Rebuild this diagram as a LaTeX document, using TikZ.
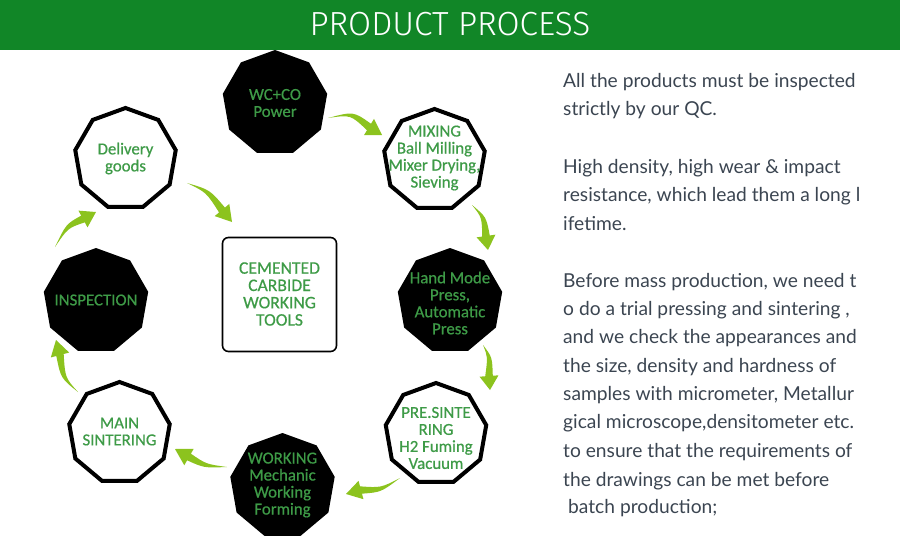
\documentclass[tikz,border=0pt]{standalone}
\usepackage{fontspec}
\setmainfont{Carlito}[FakeBold=0.6]
\newfontfamily\bodyfont{Lato}
\newfontfamily\headfont{Fira Sans Light}
\usetikzlibrary{calc,shapes.geometric}
\definecolor{hdrgreen}{HTML}{118627}
\definecolor{nodegreen}{HTML}{3E9B47}
\definecolor{arrowgreen}{HTML}{8CC31E}
\definecolor{bodygray}{HTML}{3B4551}
\newcommand\garrow[4]{%
  \fill[arrowgreen] (#1) .. controls ($(#2)!2.2pt!90:(#3)$) .. ($(#3)!3.8pt!90:(#4)$)
    -- ($(#3)!9.5pt!90:(#4)$) -- (#4) -- ($(#3)!9.5pt!-90:(#4)$)
    -- ($(#3)!3.8pt!-90:(#4)$) .. controls ($(#2)!2.2pt!-90:(#3)$) .. (#1) -- cycle;}
\begin{document}
\begin{tikzpicture}[x=1pt,y=-1pt,
  blackpoly/.style={regular polygon, regular polygon sides=9, minimum size=106pt, inner sep=0pt, fill=black},
  whitepoly/.style={regular polygon, regular polygon sides=9, minimum size=102pt, inner sep=0pt, draw=black, line width=4pt, fill=white},
  ptext/.style={text=nodegreen, font=\fontsize{16.8}{17}\selectfont, align=center, inner sep=0pt},
  btext/.style={text=bodygray, font=\bodyfont\fontsize{19.2}{20}\selectfont, anchor=base west, inner sep=0pt},
  centerbox/.style={draw=black, line width=1.6pt, rounded corners=6pt, minimum width=114pt, minimum height=114pt, inner sep=0pt}]
\useasboundingbox (0,0) rectangle (900,536);
% header
\fill[hdrgreen] (0,0) rectangle (900,50);
\node[text=white, font=\headfont\fontsize{33.4}{35}\selectfont, inner sep=0pt] (title) at (450,24) {PRODUCT PROCESS};
% process nodes
\node[blackpoly] (wc) at (275,103) {};
\node[ptext] (wct) at (wc) {WC+CO\\Power};
\node[whitepoly] (mix) at (434.5,160) {};
\node[ptext] (mixt) at (434.5,158) {MIXING\\Ball Milling\\Mixer Drying,\\Sieving};
\node[blackpoly] (press) at (450,301) {};
\node[ptext] (presst) at (450,303) {Hand Mode\\Press,\\Automatic\\Press};
\node[whitepoly] (pre) at (436,434) {};
\node[ptext] (pret) at (436,438) {PRE.SINTE\\RING\\H2 Fuming\\Vacuum};
\node[blackpoly] (work) at (282.5,486) {};
\node[ptext] (workt) at (282.5,485) {WORKING\\Mechanic\\Working\\Forming};
\node[whitepoly] (main) at (119.5,433) {};
\node[ptext] (maint) at (119.5,431.5) {MAIN\\SINTERING};
\node[blackpoly] (insp) at (96,301) {};
\node[ptext] (inspt) at (96,300) {INSPECTION};
\node[whitepoly] (deliv) at (125.5,159) {};
\node[ptext] (delivt) at (125.5,158.5) {Delivery\\goods};
\node[centerbox] (box) at (279.5,294.5) {};
\node[ptext, font=\fontsize{17.6}{17.3}\selectfont] (boxt) at (279.5,294) {CEMENTED\\CARBIDE\\WORKING\\TOOLS};
% arrow coordinates
\coordinate (a1t) at (328,118); \coordinate (a1c) at (352,113); \coordinate (a1b) at (369,127); \coordinate (a1p) at (382,135);
\coordinate (a2t) at (472,205); \coordinate (a2c) at (484,217); \coordinate (a2b) at (486,236); \coordinate (a2p) at (488,250);
\coordinate (a3t) at (483,345); \coordinate (a3c) at (490,357); \coordinate (a3b) at (489,376); \coordinate (a3p) at (490,390);
\coordinate (a4t) at (400,478); \coordinate (a4c) at (381,490); \coordinate (a4b) at (361,490); \coordinate (a4p) at (346,494);
\coordinate (a5t) at (227,467); \coordinate (a5c) at (205,466); \coordinate (a5b) at (189,457); \coordinate (a5p) at (175,449);
\coordinate (a6t) at (78,392);  \coordinate (a6c) at (63,378);  \coordinate (a6b) at (60,355);  \coordinate (a6p) at (56,340);
\coordinate (a7t) at (55,247);  \coordinate (a7c) at (67,226);  \coordinate (a7b) at (83,219);  \coordinate (a7p) at (96,212);
\coordinate (a8t) at (187,183); \coordinate (a8c) at (208,191); \coordinate (a8b) at (222,210); \coordinate (a8p) at (232,222);
\garrow{a1t}{a1c}{a1b}{a1p}
\garrow{a2t}{a2c}{a2b}{a2p}
\garrow{a3t}{a3c}{a3b}{a3p}
\garrow{a4t}{a4c}{a4b}{a4p}
\garrow{a5t}{a5c}{a5b}{a5p}
\garrow{a6t}{a6c}{a6b}{a6p}
\garrow{a7t}{a7c}{a7b}{a7p}
\garrow{a8t}{a8c}{a8b}{a8p}
% right text
\node[btext] (l1) at (563,87) {All the products must be inspected};
\node[btext] (l2) at (563,115.5) {strictly by our QC.};
\node[btext] (l3) at (563,173) {High density, high wear \& impact};
\node[btext] (l4) at (563,201.5) {resistance, which lead them a long l};
\node[btext] (l5) at (563,230) {ifetime.};
\node[btext] (l6) at (563,287) {Before mass production, we need t};
\node[btext] (l7) at (563,315) {o do a trial pressing and sintering ,};
\node[btext] (l8) at (563,343) {and we check the appearances and};
\node[btext] (l9) at (563,372) {the size, density and hardness of};
\node[btext] (l10) at (563,400) {samples with micrometer, Metallur};
\node[btext] (l11) at (563,428) {gical microscope,densitometer etc.};
\node[btext] (l12) at (563,457) {to ensure that the requirements of};
\node[btext] (l13) at (563,486) {the drawings can be met before};
\node[btext] (l14) at (568,513) {batch production;};
\end{tikzpicture}
\end{document}
